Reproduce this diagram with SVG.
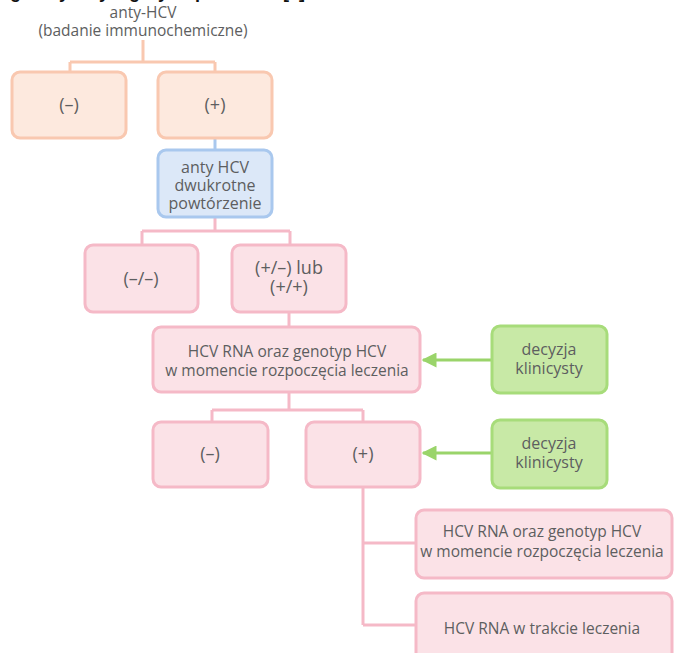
<svg xmlns="http://www.w3.org/2000/svg" width="674" height="653" viewBox="0 0 674 653">
<defs>
<style>
.t{font-family:"Open Sans","Liberation Sans",sans-serif;font-size:15.5px;fill:#5d5e60;text-anchor:middle}
.b{font-size:16px}
.p{font-size:18px}
.title{font-family:"Liberation Sans",Arial,sans-serif;font-size:18px;font-weight:bold;fill:#111}
.peach{fill:#fde9de;stroke:#f9c8b0;stroke-width:3}
.blue{fill:#dce8f8;stroke:#a9c8ee;stroke-width:3}
.pink{fill:#fbe2e7;stroke:#f5b9c7;stroke-width:3}
.green{fill:#c8e9a6;stroke:#a7dc7a;stroke-width:3}
.cp{fill:none;stroke:#f9c8b0;stroke-width:3}
.cb{fill:none;stroke:#a9c8ee;stroke-width:3}
.ck{fill:none;stroke:#f5b9c7;stroke-width:3}
.cg{fill:none;stroke:#9ad46a;stroke-width:3}
</style>
<marker id="ag" viewBox="0 0 10 10" refX="9" refY="5" markerWidth="5" markerHeight="5" orient="auto" markerUnits="strokeWidth">
<path d="M0,0 L10,5 L0,10 z" fill="#9ad46a"/>
</marker>
</defs>
<rect width="674" height="653" fill="#fff"/>
<text class="title" x="-18" y="-2">Diagnostyczny algorytm p</text>
<text class="title" x="283" y="-2">[..]</text>

<g id="connectors">
<path class="cp" d="M143,40 V62 M70,62 H215 M70,62 V72 M215,62 V72"/>
<path class="cb" d="M215,138 V150"/>
<path class="ck" d="M215,217 V231 M142,231 H290 M142,231 V245 M290,231 V245"/>
<path class="ck" d="M289,312 V327"/>
<path class="ck" d="M289,392 V410 M212,410 H363 M212,410 V422 M363,410 V422"/>
<path class="ck" d="M363,487 V625 M363,543 H416 M363,625 H416"/>
<line class="cg" x1="492" y1="360" x2="423" y2="360" marker-end="url(#ag)"/>
<line class="cg" x1="492" y1="453" x2="423" y2="453" marker-end="url(#ag)"/>
</g>

<g id="start">
<text class="t" x="143" y="18">anty-HCV<tspan x="143" dy="18">(badanie immunochemiczne)</tspan></text>
</g>
<g id="n1neg"><rect class="peach" x="12" y="72" width="114" height="66" rx="8"/><text class="t p" x="69" y="111">(–)</text></g>
<g id="n1pos"><rect class="peach" x="158" y="72" width="114" height="66" rx="8"/><text class="t p" x="215" y="111">(+)</text></g>
<g id="n2"><rect class="blue" x="158" y="150" width="114" height="67" rx="8"/>
<text class="t b" x="215" y="173">anty HCV<tspan x="215" dy="18">dwukrotne</tspan><tspan x="215" dy="18">powtórzenie</tspan></text></g>
<g id="n3neg"><rect class="pink" x="85" y="245" width="113" height="67" rx="8"/><text class="t p" x="141" y="285">(–/–)</text></g>
<g id="n3pos"><rect class="pink" x="232" y="245" width="114" height="67" rx="8"/>
<text class="t p" x="289" y="274">(+/–) lub<tspan x="289" dy="19">(+/+)</tspan></text></g>
<g id="n4"><rect class="pink" x="153" y="327" width="267" height="65" rx="8"/>
<text class="t" x="287" y="357">HCV RNA oraz genotyp HCV<tspan x="287" dy="19">w momencie rozpoczęcia leczenia</tspan></text></g>
<g id="g1"><rect class="green" x="492" y="326" width="115" height="67" rx="8"/>
<text class="t b" x="549" y="355">decyzja<tspan x="549" dy="19">klinicysty</tspan></text></g>
<g id="n5neg"><rect class="pink" x="153" y="422" width="115" height="65" rx="8"/><text class="t p" x="210" y="460">(–)</text></g>
<g id="n5pos"><rect class="pink" x="306" y="422" width="114" height="65" rx="8"/><text class="t p" x="363" y="460">(+)</text></g>
<g id="g2"><rect class="green" x="492" y="420" width="115" height="68" rx="8"/>
<text class="t b" x="549" y="449">decyzja<tspan x="549" dy="19">klinicysty</tspan></text></g>
<g id="n6"><rect class="pink" x="416" y="510" width="256" height="68" rx="8"/>
<text class="t" x="542" y="537">HCV RNA oraz genotyp HCV<tspan x="542" dy="20">w momencie rozpoczęcia leczenia</tspan></text></g>
<g id="n7"><rect class="pink" x="416" y="593" width="256" height="76" rx="8"/>
<text class="t" x="542" y="634">HCV RNA w trakcie leczenia</text></g>
</svg>
